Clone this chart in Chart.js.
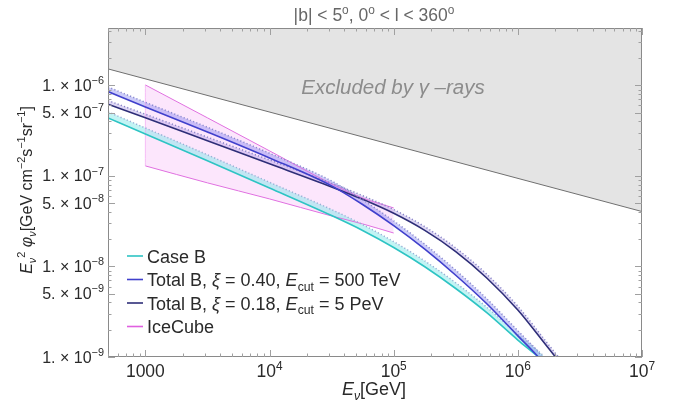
<!DOCTYPE html>
<html>
<head>
<meta charset="utf-8">
<script src="https://cdn.jsdelivr.net/npm/chart.js@4.4.0/dist/chart.umd.min.js"></script>
<style>
  html, body { margin: 0; padding: 0; background: #fff; }
  canvas { display: block; }
</style>
</head>
<body>
<canvas id="chart" width="680" height="407"></canvas>
<script>
// E_nu [GeV] and E^2 phi [GeV cm^-2 s^-1 sr^-1]
const gammaE = [500, 10000000];
const gammaLimit = [1.52e-6, 4.04e-8];

const iceE = [1000, 3160, 10000, 31600, 56200, 100000];
const iceUpper = [1.01e-6, 4.38e-7, 1.89e-7, 8.17e-8, 5.71e-8, 4.43e-8];
const iceLower = [1.29e-7, 8.38e-8, 5.57e-8, 3.61e-8, 2.95e-8, 2.34e-8];

const caseBE = [500, 1000, 3160, 10000, 31600, 56200, 100000, 178000, 316000, 562000, 1000000, 1430000, 1600000];
const caseB = [4.37e-7, 2.91e-7, 1.47e-7, 7.36e-8, 3.65e-8, 2.5e-8, 1.62e-8, 9.93e-9, 5.71e-9, 3.09e-9, 1.54e-9, 1.03e-9, 9.0e-10];
const caseBDot = [5.1e-7, 3.38e-7, 1.71e-7, 8.5e-8, 4.25e-8, 2.9e-8, 1.88e-8, 1.15e-8, 6.6e-9, 3.55e-9, 1.78e-9, 1.19e-9, 1.04e-9];

const totalAE = [500, 1000, 3160, 10000, 31600, 56200, 100000, 178000, 316000, 562000, 1000000, 1430000, 1600000];
const totalA = [8.53e-7, 5.78e-7, 3.06e-7, 1.58e-7, 7.76e-8, 4.83e-8, 2.82e-8, 1.55e-8, 8.0e-9, 3.87e-9, 1.71e-9, 1.03e-9, 8.5e-10];
const totalADot = [9.6e-7, 6.5e-7, 3.45e-7, 1.78e-7, 8.8e-8, 5.45e-8, 3.18e-8, 1.76e-8, 9.1e-9, 4.4e-9, 1.95e-9, 1.18e-9, 9.8e-10];

const totalBE = [500, 1000, 3160, 10000, 31600, 56200, 100000, 178000, 316000, 562000, 1000000, 1780000, 2100000];
const totalB = [6.19e-7, 4.38e-7, 2.44e-7, 1.36e-7, 7.55e-8, 5.51e-8, 3.86e-8, 2.5e-8, 1.46e-8, 7.46e-9, 3.3e-9, 1.23e-9, 9.3e-10];
const totalBDot = [6.8e-7, 4.8e-7, 2.68e-7, 1.5e-7, 8.3e-8, 6.05e-8, 4.25e-8, 2.75e-8, 1.6e-8, 8.2e-9, 3.63e-9, 1.35e-9, 1.02e-9];

const xTicks = [1000, 10000, 100000, 1000000, 10000000];
const xTickLabels = [['1000', ''], ['10', '4'], ['10', '5'], ['10', '6'], ['10', '7']];
const yTicks = [1e-9, 5e-9, 1e-8, 5e-8, 1e-7, 5e-7, 1e-6];
const yTickLabels = [['1', '\u22129'], ['5', '\u22129'], ['1', '\u22128'], ['5', '\u22128'], ['1', '\u22127'], ['5', '\u22127'], ['1', '\u22126']];

const legendItems = [
  { color: '#2ec4c4', parts: [['Case B', '']] },
  { color: '#4040cc', parts: [['Total B, ', ''], ['\u03be', 'i'], [' = 0.40, ', ''], ['E', 'i'], ['cut', '_'], [' = 500 TeV', '']] },
  { color: '#2e2e78', parts: [['Total B, ', ''], ['\u03be', 'i'], [' = 0.18, ', ''], ['E', 'i'], ['cut', '_'], [' = 5 PeV', '']] },
  { color: '#e060e0', parts: [['IceCube', '']] }
];

const FONT = '"Liberation Sans", Arial, sans-serif';

function pts(xs, ys) {
  return xs.map((x, i) => ({ x: x, y: ys[i] }));
}

function setFont(ctx, flags, size) {
  const small = flags.includes('^') || flags.includes('_');
  const s = small ? size * 0.68 : size;
  ctx.font = (flags.includes('i') ? 'italic ' : '') + s + 'px ' + FONT;
  return s;
}

function richWidth(ctx, parts, size) {
  let w = 0;
  parts.forEach(p => { setFont(ctx, p[1], size); w += ctx.measureText(p[0]).width; });
  return w;
}

function drawRich(ctx, parts, x, y, size, align, color) {
  ctx.save();
  ctx.fillStyle = color;
  ctx.textBaseline = 'alphabetic';
  ctx.textAlign = 'left';
  const w = richWidth(ctx, parts, size);
  let cx = align === 'center' ? x - w / 2 : align === 'right' ? x - w : x;
  parts.forEach(p => {
    setFont(ctx, p[1], size);
    let dy = 0;
    if (p[1].includes('^')) dy = -size * 0.42;
    if (p[1].includes('_')) dy = size * 0.25;
    ctx.fillText(p[0], cx, y + dy);
    cx += ctx.measureText(p[0]).width;
  });
  ctx.restore();
}

const decorations = {
  id: 'decorations',
  afterDatasetsDraw(chart) {
    const ctx = chart.ctx;
    const a = chart.chartArea;
    const xs = chart.scales.x, ys = chart.scales.y;

    // excluded label
    drawRich(ctx, [['Excluded by ', 'i'], ['\u03b3', 'i'], [' \u2013rays', 'i']], 393, 94, 20.5, 'center', '#8c8c8c');

    // frame
    ctx.save();
    ctx.strokeStyle = '#8a8a8a';
    ctx.lineWidth = 1;
    ctx.strokeRect(a.left + 0.5, a.top + 0.5, a.right - a.left - 1, a.bottom - a.top - 1);

    // ticks, inside the frame
    ctx.strokeStyle = '#a0a0a0';
    ctx.beginPath();
    for (let d = 2; d <= 7; d++) {
      for (let m = 1; m <= 9; m++) {
        const v = m * Math.pow(10, d);
        if (v < 500 || v > 1e7) continue;
        const px = Math.round(xs.getPixelForValue(v)) + 0.5;
        const len = m === 1 ? 7 : 3.5;
        ctx.moveTo(px, a.bottom); ctx.lineTo(px, a.bottom - len);
        ctx.moveTo(px, a.top); ctx.lineTo(px, a.top + len);
      }
    }
    for (let e = -9; e <= -6; e++) {
      for (let m = 1; m <= 9; m++) {
        const v = m * Math.pow(10, e);
        if (v < 1e-9 || v > 4.3e-6) continue;
        const py = Math.round(ys.getPixelForValue(v)) + 0.5;
        const len = (m === 1 || m === 5) ? 7 : 3.5;
        ctx.moveTo(a.left, py); ctx.lineTo(a.left + len, py);
        ctx.moveTo(a.right, py); ctx.lineTo(a.right - len, py);
      }
    }
    ctx.stroke();
    ctx.restore();

    // tick labels
    xTicks.forEach((v, i) => {
      const px = xs.getPixelForValue(v);
      const lab = xTickLabels[i];
      const parts = lab[1] ? [[lab[0], ''], [lab[1], '^']] : [[lab[0], '']];
      drawRich(ctx, parts, px, 377, 17.5, 'center', '#2a2a2a');
    });
    yTicks.forEach((v, i) => {
      const py = ys.getPixelForValue(v);
      const lab = yTickLabels[i];
      drawRich(ctx, [[lab[0] + '. \u00d7 10', ''], [lab[1], '^']], 104, py + 5.5, 16, 'right', '#2a2a2a');
    });

    // axis titles
    drawRich(ctx, [['E', 'i'], ['\u03bd', 'i_'], ['[GeV]', '']], 374, 395, 18, 'center', '#2a2a2a');
    ctx.save();
    ctx.translate(32, 190);
    ctx.rotate(-Math.PI / 2);
    drawRich(ctx, [['E', 'i'], ['\u03bd', 'i_'], ['2', '^'], [' ', ''], ['\u03c6', 'i'], ['\u03bd', 'i_'],
      ['[GeV cm', ''], ['\u22122', '^'], ['s', ''], ['\u22121', '^'], ['sr', ''], ['\u22121', '^'], [']', '']],
      0, 0, 16, 'center', '#2a2a2a');
    ctx.restore();

    // title
    drawRich(ctx, [['|b| < 5', ''], ['o', '^'], [', 0', ''], ['o', '^'], [' < l < 360', ''], ['o', '^']],
      374, 21, 17.5, 'center', '#666');

    // legend
    legendItems.forEach((it, i) => {
      const y = 256 + i * 23.5;
      ctx.save();
      ctx.strokeStyle = it.color;
      ctx.lineWidth = 1.6;
      ctx.beginPath();
      ctx.moveTo(127, y); ctx.lineTo(143, y);
      ctx.stroke();
      ctx.restore();
      drawRich(ctx, it.parts, 147, y + 6.5, 18, 'left', '#2a2a2a');
    });
  }
};

const base = { showLine: true, pointRadius: 0, pointHoverRadius: 0, cubicInterpolationMode: 'monotone' };

new Chart(document.getElementById('chart'), {
  type: 'scatter',
  data: {
    datasets: [
      // 0 gamma-ray limit
      Object.assign({}, base, { data: pts(gammaE, gammaLimit), borderColor: '#707070', borderWidth: 1,
        fill: 'end', backgroundColor: '#e4e4e4', order: 20 }),
      // 1, 2 IceCube band
      Object.assign({}, base, { data: pts(iceE, iceUpper), borderColor: '#e070e0', borderWidth: 1,
        fill: 2, backgroundColor: 'rgba(248,200,248,0.45)', order: 19 }),
      Object.assign({}, base, { data: pts(iceE, iceLower), borderColor: '#e070e0', borderWidth: 1, fill: false, order: 18 }),
      Object.assign({}, base, { data: pts([iceE[0], iceE[0]], [iceUpper[0], iceLower[0]]), borderColor: 'rgba(240,150,240,0.6)',
        borderWidth: 1, fill: false, order: 17 }),
      // 4, 5 Case B
      Object.assign({}, base, { data: pts(caseBE, caseB), borderColor: '#2ec4c4', borderWidth: 1.6, fill: false, order: 6 }),
      Object.assign({}, base, { data: pts(caseBE, caseBDot), borderColor: '#9ab0d6', borderWidth: 1.5,
        borderDash: [1.2, 2.2], fill: 4, backgroundColor: 'rgba(110,228,228,0.42)', order: 7 }),
      // 6, 7 Total B, 0.40
      Object.assign({}, base, { data: pts(totalAE, totalA), borderColor: '#4040cc', borderWidth: 1.6, fill: false, order: 2 }),
      Object.assign({}, base, { data: pts(totalAE, totalADot), borderColor: '#8c8cd0', borderWidth: 1.5,
        borderDash: [1.2, 2.2], fill: 6, backgroundColor: 'rgba(120,120,240,0.38)', order: 3 }),
      // 8, 9 Total B, 0.18
      Object.assign({}, base, { data: pts(totalBE, totalB), borderColor: '#2e2e78', borderWidth: 1.6, fill: false, order: 4 }),
      Object.assign({}, base, { data: pts(totalBE, totalBDot), borderColor: '#8a86c8', borderWidth: 1.5,
        borderDash: [1.2, 2.2], fill: 8, backgroundColor: 'rgba(160,140,225,0.35)', order: 5 })
    ]
  },
  options: {
    responsive: false,
    animation: false,
    devicePixelRatio: 1,
    layout: { padding: { left: 108, right: 38, top: 28, bottom: 50 } },
    scales: {
      x: { type: 'logarithmic', min: 500, max: 10000000, display: false },
      y: { type: 'logarithmic', min: 1e-9, max: 4.3e-6, display: false }
    },
    plugins: {
      legend: { display: false },
      tooltip: { enabled: false },
      filler: { drawTime: 'beforeDatasetsDraw' }
    }
  },
  plugins: [decorations]
});
</script>
</body>
</html>
